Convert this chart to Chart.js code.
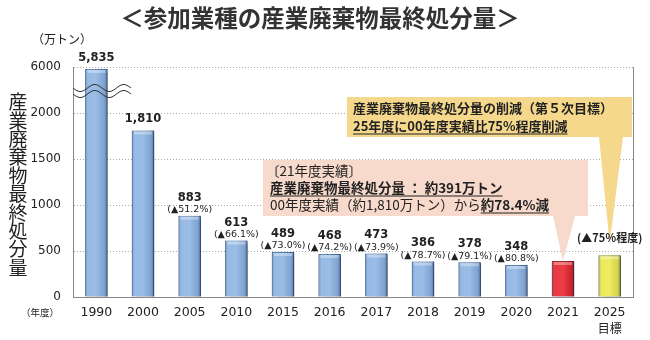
<!DOCTYPE html>
<html>
<head>
<meta charset="utf-8">
<script src="https://cdn.jsdelivr.net/npm/chart.js@4.4.1/dist/chart.umd.min.js"></script>
<style>
  html, body { margin: 0; padding: 0; background: #fff; }
  #wrap { width: 650px; height: 340px; }
</style>
</head>
<body>
<div id="wrap"><canvas id="c" width="650" height="340"></canvas></div>
<script>
// ---- data ----
const YEARS   = ['1990','2000','2005','2010','2015','2016','2017','2018','2019','2020','2021','2025'];
const AMOUNTS = [5835, 1810, 883, 613, 489, 468, 473, 386, 378, 348, 391, 453];
const LABELS  = ['5,835','1,810','883','613','489','468','473','386','378','348', null, null];
const PCTS    = [null, null, '(▲51.2%)','(▲66.1%)','(▲73.0%)','(▲74.2%)','(▲73.9%)',
                 '(▲78.7%)','(▲79.1%)','(▲80.8%)', null, '(▲75％程度)'];
const Y_TICKS = [0, 500, 1000, 1500, 2000, 6000];
const BAR_COLORS = ['#8cb3e2','#8cb3e2','#8cb3e2','#8cb3e2','#8cb3e2','#8cb3e2',
                    '#8cb3e2','#8cb3e2','#8cb3e2','#8cb3e2','#e8232b','#ebe84a'];
const BORDER_COLORS = ['#4a77b0','#4a77b0','#4a77b0','#4a77b0','#4a77b0','#4a77b0',
                       '#4a77b0','#4a77b0','#4a77b0','#4a77b0','#9e1519','#a9a626'];

// broken axis: above 2000 one grid step (500) stands for 4000
const BREAK = 2000, SQUEEZE = 8;
const brk = v => v > BREAK ? BREAK + (v - BREAK) / SQUEEZE : v;
const tickLabel = v => v > BREAK ? String(Math.round(BREAK + (v - BREAK) * SQUEEZE)) : String(v);

const JP = '"Noto Sans CJK JP", "Noto Sans", sans-serif';
const LAT = '"DejaVu Sans", Verdana, sans-serif';

function underline(ctx, x, y, w) {
  ctx.beginPath();
  ctx.moveTo(x, y); ctx.lineTo(x + w, y);
  ctx.lineWidth = 1.2; ctx.strokeStyle = ctx.fillStyle; ctx.stroke();
}

function wavy(ctx, x0, x1, y) {
  ctx.beginPath();
  for (let x = x0; x <= x1; x += 1) {
    const yy = y + Math.sin((x - x0) / (x1 - x0) * Math.PI * 4) * 3.5;
    if (x === x0) ctx.moveTo(x, yy); else ctx.lineTo(x, yy);
  }
  ctx.stroke();
}

// shadow under bars
const shadowPlugin = {
  id: 'shadow',
  beforeDatasetsDraw(chart) {
    const ctx = chart.ctx;
    ctx.save();
    ctx.shadowColor = 'rgba(0,0,0,0.45)';
    ctx.shadowOffsetX = 3;
    ctx.shadowOffsetY = 1;
    ctx.shadowBlur = 3;
  },
  afterDatasetsDraw(chart) { chart.ctx.restore(); }
};

const decoPlugin = {
  id: 'deco',
  afterDatasetsDraw(chart) {
    const ctx = chart.ctx;
    const area = chart.chartArea;
    const bars = chart.getDatasetMeta(0).data;

    // bevel shading on each bar
    bars.forEach(b => {
      const { x, y, base, width } = b.getProps(['x','y','base','width'], true);
      const l = x - width / 2, r = x + width / 2;
      const g = ctx.createLinearGradient(l, 0, r, 0);
      g.addColorStop(0,    'rgba(20,40,80,0.35)');
      g.addColorStop(0.15, 'rgba(255,255,255,0.10)');
      g.addColorStop(0.5,  'rgba(255,255,255,0.12)');
      g.addColorStop(0.85, 'rgba(20,40,80,0.10)');
      g.addColorStop(1,    'rgba(20,40,80,0.45)');
      ctx.fillStyle = g;
      ctx.fillRect(l, y, width, base - y);
      ctx.fillStyle = 'rgba(255,255,255,0.35)';
      ctx.fillRect(l + 2, y + 1, width - 4, 3);
    });

    // right border
    ctx.save();
    ctx.strokeStyle = '#888';
    ctx.lineWidth = 1;
    ctx.beginPath();
    ctx.moveTo(area.right + 0.5, area.top);
    ctx.lineTo(area.right + 0.5, area.bottom);
    ctx.stroke();

    // axis break marks across the 1990 bar
    ctx.strokeStyle = '#333';
    ctx.lineWidth = 1;
    wavy(ctx, area.left, area.left + 58, 88);
    wavy(ctx, area.left, area.left + 58, 94);

    // callout: 2025 target (yellow)
    const b25 = bars[11].getProps(['x','y'], true);
    ctx.fillStyle = '#f5d88c';
    ctx.beginPath();
    ctx.moveTo(347, 97); ctx.lineTo(632, 97); ctx.lineTo(632, 137);
    ctx.lineTo(623, 137); ctx.lineTo(b25.x, b25.y - 12); ctx.lineTo(599, 137);
    ctx.lineTo(347, 137); ctx.closePath(); ctx.fill();

    // callout: 2021 result (pink)
    const b21 = bars[10].getProps(['x','y'], true);
    ctx.fillStyle = '#f7dacb';
    ctx.beginPath();
    ctx.moveTo(263, 160); ctx.lineTo(588, 160); ctx.lineTo(588, 216);
    ctx.lineTo(575, 216); ctx.lineTo(b21.x, b21.y); ctx.lineTo(553, 216);
    ctx.lineTo(263, 216); ctx.closePath(); ctx.fill();
    ctx.restore();

    // callout texts
    ctx.save();
    ctx.fillStyle = '#222';
    ctx.textBaseline = 'middle';
    ctx.textAlign = 'left';
    ctx.font = 'bold 13px ' + JP;
    ctx.fillText('産業廃棄物最終処分量の削減（第５次目標）', 353, 108);
    let t = '25年度に00年度実績比75%程度削減';
    ctx.fillText(t, 353, 126);
    underline(ctx, 353, 134, ctx.measureText(t).width);

    ctx.font = '13.5px ' + JP;
    ctx.fillText('〔21年度実績〕', 266, 171);
    ctx.font = 'bold 13.5px ' + JP;
    t = '産業廃棄物最終処分量 ： 約391万トン';
    ctx.fillText(t, 270, 188);
    underline(ctx, 270, 196, ctx.measureText(t).width);
    ctx.font = '13.5px ' + JP;
    t = '00年度実績（約1,810万トン）から';
    ctx.fillText(t, 270, 205);
    const w0 = ctx.measureText(t).width;
    ctx.font = 'bold 13.5px ' + JP;
    t = '約78.4%減';
    ctx.fillText(t, 270 + w0, 205);
    underline(ctx, 270 + w0, 213, ctx.measureText(t).width);

    // value labels above bars
    ctx.textAlign = 'center';
    bars.forEach((b, i) => {
      const { x, y } = b.getProps(['x','y'], true);
      if (i === 11) {
        ctx.font = 'bold 11px ' + JP;
        ctx.fillText(PCTS[i], x, y - 18);
        return;
      }
      if (PCTS[i]) {
        ctx.font = 'bold 11.5px ' + LAT;
        ctx.fillText(LABELS[i], x, y - 18);
        ctx.font = '9.5px ' + LAT;
        ctx.fillText(PCTS[i], x, y - 6);
      } else if (LABELS[i]) {
        ctx.font = 'bold 11.5px ' + LAT;
        ctx.fillText(LABELS[i], x, y - 11);
      }
    });
    ctx.restore();
  },
  afterDraw(chart) {
    const ctx = chart.ctx;
    const bars = chart.getDatasetMeta(0).data;
    ctx.save();
    ctx.textBaseline = 'middle';
    ctx.textAlign = 'center';
    ctx.font = 'bold 23.5px ' + JP;
    ctx.fillStyle = '#333';
    ctx.fillText('＜参加業種の産業廃棄物最終処分量＞', 320, 18);

    ctx.fillStyle = '#222';
    ctx.font = '12px ' + JP;
    ctx.fillText('（万トン）', 62, 39);

    ctx.font = '19px ' + JP;
    const ttl = '産業廃棄物最終処分量';
    for (let i = 0; i < ttl.length; i++) ctx.fillText(ttl[i], 18, 102 + i * 18.4);

    ctx.font = '9.5px ' + JP;
    ctx.fillText('（年度）', 40, 312);

    ctx.font = '12px ' + JP;
    ctx.fillText('目標', bars[11].x, 328);
    ctx.restore();
  }
};

new Chart(document.getElementById('c'), {
  type: 'bar',
  data: {
    labels: YEARS,
    datasets: [{
      data: AMOUNTS.map(brk),
      backgroundColor: BAR_COLORS,
      borderColor: BORDER_COLORS,
      borderWidth: 1,
      barPercentage: 0.48,
      categoryPercentage: 1.0
    }]
  },
  plugins: [shadowPlugin, decoPlugin],
  options: {
    responsive: false,
    animation: false,
    layout: { padding: { top: 67, right: 17, left: 0, bottom: 0 } },
    plugins: { legend: { display: false }, tooltip: { enabled: false } },
    scales: {
      x: {
        afterFit: s => { s.height = 43; },
        grid: { display: false, drawTicks: false },
        border: { color: '#888' },
        ticks: { padding: 8, color: '#222', font: { family: 'DejaVu Sans', size: 12.5 } }
      },
      y: {
        min: 0,
        max: brk(Y_TICKS[Y_TICKS.length - 1]),
        afterFit: s => { s.width = 73; },
        afterBuildTicks: s => { s.ticks = Y_TICKS.map(v => ({ value: brk(v) })); },
        grid: { color: '#aaa', lineWidth: 1, drawTicks: false },
        border: { color: '#888', dash: [1, 2] },
        ticks: {
          padding: 12,
          color: '#222',
          font: { family: 'DejaVu Sans', size: 12 },
          callback: v => tickLabel(v)
        }
      }
    }
  }
});
</script>
</body>
</html>
